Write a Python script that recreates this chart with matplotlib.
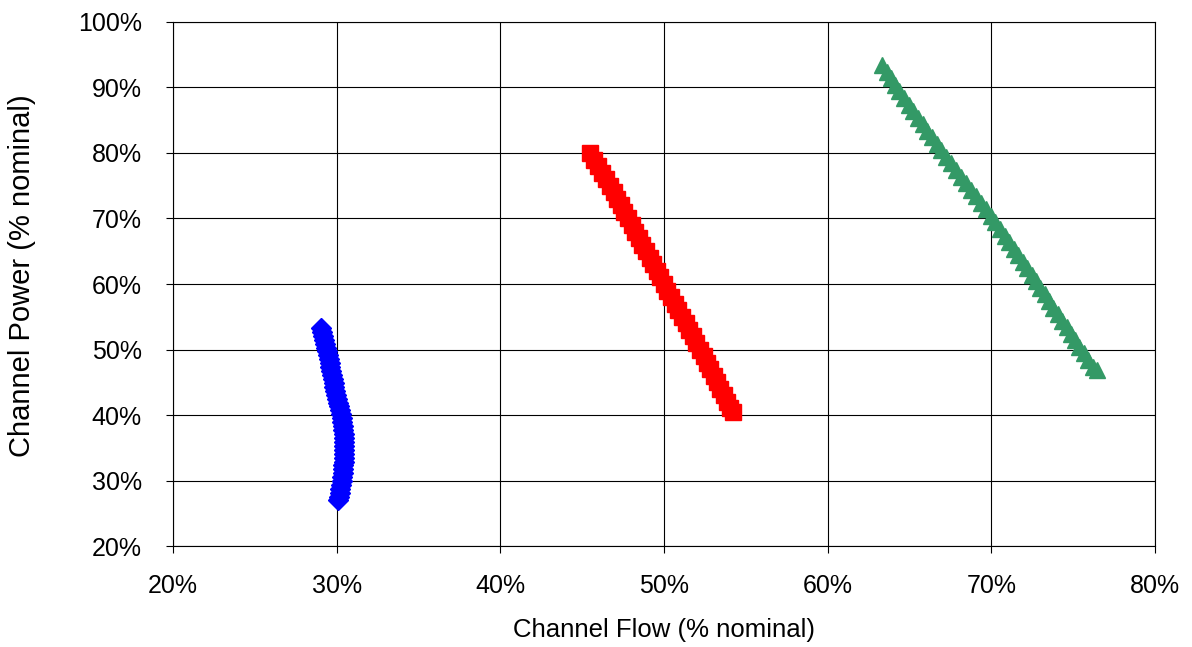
import matplotlib.pyplot as plt
from matplotlib.ticker import FuncFormatter

# channel flow / power operating points, both in % of nominal
blue_flow = [29.05, 29.12, 29.18, 29.24, 29.30, 29.37, 29.42, 29.47, 29.52, 29.57,
             29.62, 29.66, 29.71, 29.76, 29.81, 29.87, 29.93, 29.99, 30.05, 30.11,
             30.16, 30.22, 30.27, 30.31, 30.35, 30.38, 30.41, 30.43, 30.45, 30.46,
             30.46, 30.46, 30.46, 30.45, 30.44, 30.42, 30.40, 30.37, 30.34, 30.31,
             30.27, 30.23, 30.18, 30.13, 30.08]
blue_power = [53.3, 52.7, 52.1, 51.5, 50.9, 50.3, 49.7, 49.1, 48.5, 47.9,
              47.3, 46.7, 46.1, 45.5, 44.9, 44.3, 43.7, 43.1, 42.5, 41.9,
              41.3, 40.7, 40.1, 39.5, 38.9, 38.3, 37.7, 37.1, 36.5, 35.9,
              35.3, 34.7, 34.1, 33.5, 32.9, 32.3, 31.7, 31.1, 30.5, 29.9,
              29.3, 28.7, 28.1, 27.5, 27.0]

red_flow = [45.50, 45.73, 45.99, 46.22, 46.45, 46.70, 46.93, 47.13, 47.37, 47.58,
            47.80, 48.03, 48.23, 48.47, 48.68, 48.90, 49.13, 49.33, 49.57, 49.78,
            50.00, 50.21, 50.45, 50.66, 50.87, 51.10, 51.33, 51.54, 51.75, 51.98,
            52.20, 52.42, 52.61, 52.83, 53.05, 53.25, 53.44, 53.66, 53.85, 54.04,
            54.20]
red_power = [80.0, 79.0, 78.0, 77.0, 76.0, 75.0, 74.0, 73.0, 72.0, 71.0,
             70.0, 69.0, 68.0, 67.0, 66.0, 65.0, 64.0, 63.0, 62.0, 61.0,
             60.0, 59.0, 58.0, 57.0, 56.0, 55.0, 54.0, 53.0, 52.0, 51.0,
             50.0, 49.0, 48.0, 47.0, 46.0, 45.0, 44.0, 43.0, 42.0, 41.0,
             40.4]

green_flow = [63.35, 63.62, 63.88, 64.12, 64.38, 64.66, 64.95, 65.24, 65.52, 65.80,
              66.10, 66.38, 66.66, 66.95, 67.25, 67.55, 67.85, 68.15, 68.46, 68.76,
              69.06, 69.36, 69.67, 69.97, 70.25, 70.53, 70.81, 71.09, 71.36, 71.64,
              71.92, 72.19, 72.46, 72.73, 73.00, 73.27, 73.54, 73.80, 74.07, 74.33,
              74.60, 74.86, 75.12, 75.38, 75.65, 75.92, 76.20, 76.45]
green_power = [93.4, 92.4, 91.4, 90.4, 89.4, 88.4, 87.4, 86.4, 85.4, 84.4,
               83.4, 82.4, 81.4, 80.4, 79.4, 78.4, 77.4, 76.4, 75.4, 74.4,
               73.4, 72.4, 71.4, 70.4, 69.4, 68.4, 67.4, 66.4, 65.4, 64.4,
               63.4, 62.4, 61.4, 60.4, 59.4, 58.4, 57.4, 56.4, 55.4, 54.4,
               53.4, 52.4, 51.4, 50.4, 49.4, 48.4, 47.4, 46.9]

plt.rcParams['font.family'] = ['Liberation Sans', 'DejaVu Sans']

fig = plt.figure(figsize=(11.92, 6.47), dpi=100)
ax = fig.add_axes([0.1451, 0.1561, 0.8238, 0.8099])

ax.plot(blue_flow, blue_power, linestyle='none', marker='D', ms=10,
        color='#0000ff', mec='#0000ff', mew=1)
ax.plot(red_flow, red_power, linestyle='none', marker='s', ms=11.5,
        color='#ff0000', mec='#ff0000', mew=1)
ax.plot(green_flow, green_power, linestyle='none', marker='^', ms=12,
        color='#339966', mec='#339966', mew=1)

ax.set_xlim(20, 80)
ax.set_ylim(20, 100)
ax.set_xticks(range(20, 81, 10))
ax.set_yticks(range(20, 101, 10))
pct = FuncFormatter(lambda v, pos: '%d%%' % v)
ax.xaxis.set_major_formatter(pct)
ax.yaxis.set_major_formatter(pct)

ax.grid(True, color='black', linewidth=0.8)
ax.set_axisbelow(True)
for s in ax.spines.values():
    s.set_linewidth(0.8)
ax.tick_params(direction='out', length=5, width=0.8, labelsize=18)
ax.tick_params(axis='x', pad=15)
ax.tick_params(axis='y', pad=17.5)

ax.set_xlabel('Channel Flow (% nominal)', fontsize=18.5)
ax.set_ylabel('Channel Power (% nominal)', fontsize=21)
ax.xaxis.set_label_coords(0.5, -0.138)
ax.yaxis.set_label_coords(-0.139, 0.515)

fig.savefig('out.png', dpi=100)
